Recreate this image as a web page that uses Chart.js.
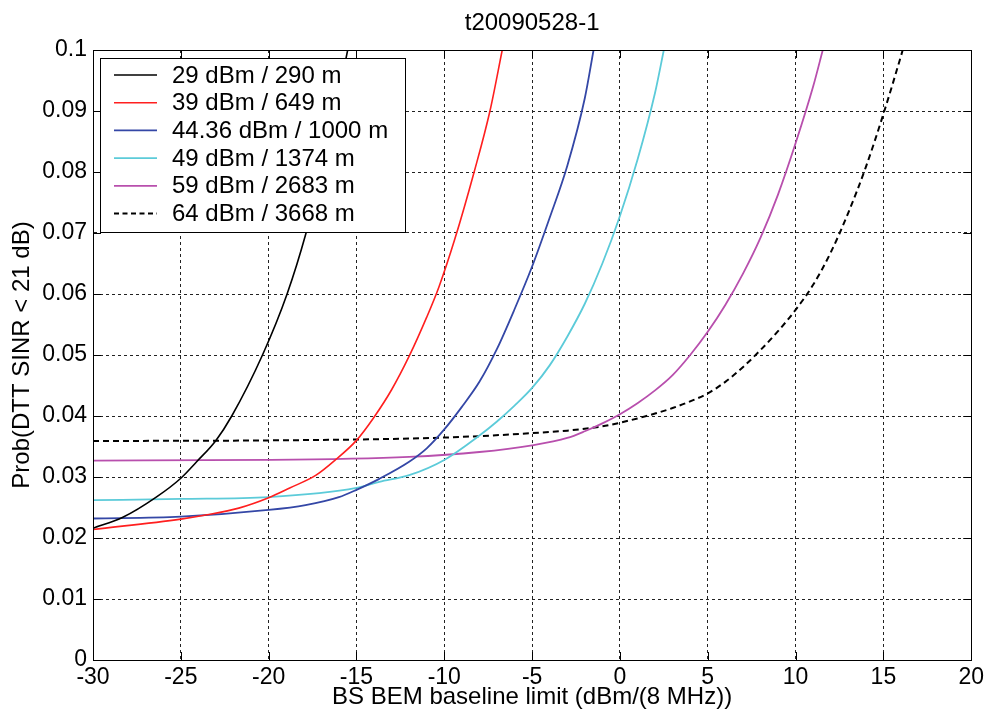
<!DOCTYPE html>
<html>
<head>
<meta charset="utf-8">
<script src="https://cdn.jsdelivr.net/npm/chart.js@4.4.1/dist/chart.umd.min.js"></script>
<style>
html,body{margin:0;padding:0;background:#fff;}
#wrap{width:988px;height:713px;position:relative;}
</style>
</head>
<body>
<div id="wrap"><canvas id="c" width="988" height="713"></canvas></div>
<script>
const chartTitle = 't20090528-1';
const xAxisTitle = 'BS BEM baseline limit (dBm/(8 MHz))';
const yAxisTitle = 'Prob(DTT SINR < 21 dB)';
const xTickValues = [-30, -25, -20, -15, -10, -5, 0, 5, 10, 15, 20];
const yTickLabels = ['0', '0.01', '0.02', '0.03', '0.04', '0.05', '0.06', '0.07', '0.08', '0.09', '0.1'];
const seriesNames = ['29 dBm / 290 m', '39 dBm / 649 m', '44.36 dBm / 1000 m', '49 dBm / 1374 m', '59 dBm / 2683 m', '64 dBm / 3668 m'];

const s29X = [-30, -28.3, -26.4, -25, -24.1, -23, -22.1, -20.35, -18.95, -17.87, -17.0, -16.2, -15.5];
const s29Y = [0.0216, 0.0234, 0.0267, 0.0298, 0.0325, 0.036, 0.040, 0.050, 0.060, 0.070, 0.080, 0.090, 0.100];

const s39X = [-30, -25, -23.5, -21.7, -20, -18.8, -17.3, -16.2, -15, -14, -13, -12, -11, -10.3, -9.4, -8.3, -7.4, -6.7];
const s39Y = [0.0214, 0.0231, 0.0238, 0.0249, 0.0266, 0.0282, 0.0303, 0.0328, 0.036, 0.0398, 0.0443, 0.0498, 0.0562, 0.0612, 0.069, 0.080, 0.090, 0.100];

const s44X = [-30, -25, -20, -17.9, -16, -15, -13.7, -12, -11, -10, -9, -8, -7, -6, -5, -4, -3, -2, -1.5];
const s44Y = [0.0232, 0.0235, 0.0246, 0.0254, 0.0267, 0.0279, 0.0297, 0.0325, 0.0347, 0.0378, 0.0415, 0.0456, 0.051, 0.0575, 0.0645, 0.0725, 0.081, 0.0921, 0.100];

const s49X = [-30, -25, -20, -15, -13.7, -12, -10, -8, -7, -6, -5, -4, -3, -2, -1, 0, 1, 2, 2.5];
const s49Y = [0.0262, 0.0264, 0.0267, 0.0282, 0.0292, 0.0303, 0.0328, 0.0368, 0.0391, 0.0417, 0.0446, 0.0483, 0.053, 0.0584, 0.065, 0.0728, 0.082, 0.093, 0.100];

const s59X = [-30, -20, -12, -8, -5, -3, -2, -1, 0, 1, 2, 3, 4, 5, 6, 7, 8, 9, 10, 11, 11.55];
const s59Y = [0.0327, 0.0328, 0.0333, 0.0341, 0.0352, 0.0364, 0.0375, 0.0388, 0.0403, 0.0421, 0.0442, 0.0467, 0.0500, 0.0538, 0.0582, 0.0633, 0.0692, 0.0763, 0.0847, 0.094, 0.100];

const s64X = [-30, -20, -12, -8, -5, -3, -1, 0, 1, 2, 3, 4, 5, 6, 7, 8, 9, 10, 11, 12, 13, 14, 15, 16, 16.1];
const s64Y = [0.0359, 0.036, 0.0363, 0.0367, 0.0372, 0.0376, 0.0383, 0.0389, 0.0396, 0.0404, 0.0413, 0.0424, 0.0437, 0.0456, 0.048, 0.0508, 0.0539, 0.0574, 0.0615, 0.0668, 0.0733, 0.0808, 0.0895, 0.099, 0.100];

const seriesX = [s29X, s39X, s44X, s49X, s59X, s64X];
const seriesY = [s29Y, s39Y, s44Y, s49Y, s59Y, s64Y];
const colors = ['#000000', '#ff1f1f', '#3447a6', '#5ccbd9', '#b84fad', '#000000'];
const dashes = [[], [], [], [], [], [6, 4]];
const widths = [1.6, 1.6, 1.8, 1.8, 1.8, 2];

const FONT = 'Liberation Sans, Arial, Helvetica, sans-serif';

const datasets = seriesNames.map((name, i) => ({
  label: name,
  data: seriesX[i].map((x, j) => ({x: x, y: seriesY[i][j]})),
  borderColor: colors[i],
  backgroundColor: colors[i],
  borderWidth: widths[i],
  borderDash: dashes[i],
  pointRadius: 0,
  fill: false,
  cubicInterpolationMode: 'monotone'
}));

const framePlugin = {
  id: 'frame',
  afterDatasetsDraw(chart) {
    const ctx = chart.ctx;
    const a = chart.chartArea;
    const xs = chart.scales.x, ys = chart.scales.y;
    ctx.save();
    ctx.setLineDash([]);
    ctx.strokeStyle = '#000';
    ctx.lineWidth = 1;
    // inward ticks
    ctx.beginPath();
    xTickValues.forEach(v => {
      const px = Math.round(xs.getPixelForValue(v)) + 0.5;
      ctx.moveTo(px, a.bottom); ctx.lineTo(px, a.bottom - 8);
      ctx.moveTo(px, a.top); ctx.lineTo(px, a.top + 8);
    });
    yTickLabels.forEach((t, i) => {
      const py = Math.round(ys.getPixelForValue(i * 0.01)) + 0.5;
      ctx.moveTo(a.left, py); ctx.lineTo(a.left + 8, py);
      ctx.moveTo(a.right, py); ctx.lineTo(a.right - 8, py);
    });
    ctx.stroke();
    // box
    ctx.strokeRect(Math.round(a.left) + 0.5, Math.round(a.top) + 0.5, Math.round(a.right - a.left), Math.round(a.bottom - a.top));
    // legend
    const lx = 100, ly = 58, lw = 305, lh = 174;
    ctx.fillStyle = '#fff';
    ctx.fillRect(lx, ly, lw, lh);
    ctx.strokeRect(lx + 0.5, ly + 0.5, lw, lh);
    ctx.font = '24px ' + FONT;
    ctx.textBaseline = 'middle';
    ctx.textAlign = 'left';
    seriesNames.forEach((name, i) => {
      const y = 75 + i * 27.7;
      ctx.beginPath();
      ctx.strokeStyle = colors[i];
      ctx.lineWidth = widths[i];
      ctx.setLineDash(dashes[i].length ? [5, 3.5] : []);
      ctx.moveTo(114, y); ctx.lineTo(157, y);
      ctx.stroke();
      ctx.setLineDash([]);
      ctx.fillStyle = '#000';
      ctx.fillText(name, 172, y + 1);
    });
    // title
    ctx.font = '24px ' + FONT;
    ctx.textAlign = 'center';
    ctx.fillText(chartTitle, (a.left + a.right) / 2, 23);
    ctx.restore();
  }
};

new Chart(document.getElementById('c'), {
  type: 'line',
  data: { datasets: datasets },
  plugins: [framePlugin],
  options: {
    responsive: false,
    animation: false,
    devicePixelRatio: 1,
    layout: { padding: { top: 50, right: 13, left: 0, bottom: 0 } },
    plugins: { legend: { display: false }, title: { display: false }, tooltip: { enabled: false } },
    scales: {
      x: {
        type: 'linear', min: -30, max: 20,
        afterBuildTicks(scale) { scale.ticks = xTickValues.map(v => ({value: v})); },
        afterFit(scale) { scale.height = 53; },
        ticks: { color: '#000', font: { family: FONT, size: 23 }, padding: 4, maxRotation: 0, autoSkip: false,
          callback: v => String(v) },
        grid: { color: '#222', lineWidth: 1, drawTicks: false },
        border: { display: true, color: '#000', dash: [3, 3] },
        title: { display: true, text: xAxisTitle, color: '#000', font: { family: FONT, size: 24 }, padding: { top: 0, bottom: 1 } }
      },
      y: {
        type: 'linear', min: 0, max: 0.1,
        afterBuildTicks(scale) { scale.ticks = yTickLabels.map((t, i) => ({value: i * 0.01})); },
        afterFit(scale) { scale.width = 93; },
        ticks: { color: '#000', font: { family: FONT, size: 23 }, padding: 6, autoSkip: false,
          callback: (v, i) => yTickLabels[i] },
        grid: { color: '#222', lineWidth: 1, drawTicks: false },
        border: { display: true, color: '#000', dash: [3, 3] },
        title: { display: true, text: yAxisTitle, color: '#000', font: { family: FONT, size: 24 }, padding: { top: 8, bottom: 0 } }
      }
    }
  }
});
</script>
</body>
</html>
